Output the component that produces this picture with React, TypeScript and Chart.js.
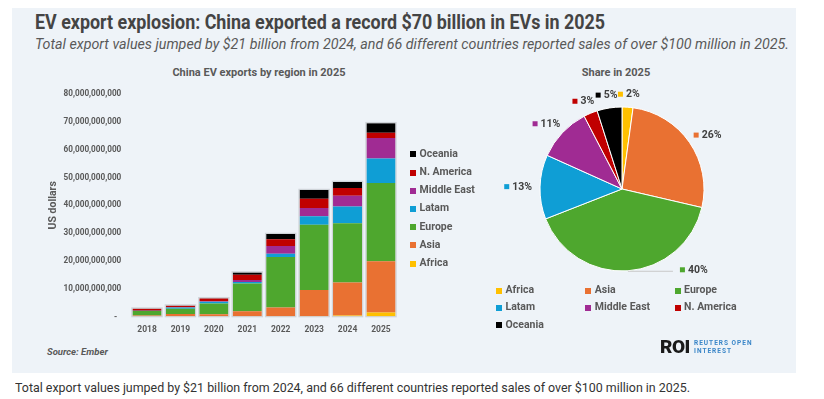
import React, { useEffect, useLayoutEffect, useRef } from 'react';
import { Chart, registerables } from 'chart.js';

Chart.register(...registerables);

// ---------- data ----------
const years = ['2018', '2019', '2020', '2021', '2022', '2023', '2024', '2025'];
const regions = ['Africa', 'Asia', 'Europe', 'Latam', 'Middle East', 'N. America', 'Oceania'];
const regionColors = ['#FFC000', '#E97132', '#4EA72E', '#0F9ED5', '#A02B93', '#C00000', '#000000'];
// export values, billions of US dollars
const africa = [0.02, 0.03, 0.05, 0.1, 0.1, 0.2, 0.4, 1.5];
const asia = [0.4, 0.9, 0.8, 1.9, 3.2, 9.4, 11.9, 18.4];
const europe = [1.6, 1.9, 3.9, 9.9, 18.1, 23.4, 21.3, 28.1];
const latam = [0.1, 0.5, 0.6, 0.6, 1.2, 3.1, 6.0, 8.8];
const middleEast = [0.05, 0.1, 0.2, 0.7, 2.8, 2.9, 3.8, 7.4];
const nAmerica = [0.7, 0.5, 1.0, 1.9, 2.4, 3.4, 2.8, 1.9];
const oceania = [0.05, 0.1, 0.1, 0.8, 1.9, 3.1, 2.2, 3.4];
const seriesValues = [africa, asia, europe, latam, middleEast, nAmerica, oceania];
const yAxisMax = 80e9;
const yAxisStep = 10e9;

const titleText = 'EV export explosion: China exported a record $70 billion in EVs in 2025';
const subtitleText =
  'Total export values jumped by $21 billion from 2024, and 66 different countries reported sales of over $100 million in 2025.';
const captionText = subtitleText;

const FONT = 'Roboto, "Noto Sans", sans-serif';
const GREY = '#595959';

function FitText(props: { text: string; left: number; top: number; width: number; style: React.CSSProperties }) {
  const ref = useRef<HTMLDivElement>(null);
  useLayoutEffect(() => {
    const el = ref.current;
    if (!el) return;
    el.style.transform = 'none';
    const w = el.getBoundingClientRect().width;
    if (w > 0) el.style.transform = `scaleX(${props.width / w})`;
  }, [props.text, props.width]);
  return (
    <div
      ref={ref}
      style={{
        position: 'absolute',
        left: props.left,
        top: props.top,
        whiteSpace: 'nowrap',
        transformOrigin: '0 0',
        lineHeight: 1,
        ...props.style,
      }}
    >
      {props.text}
    </div>
  );
}

const stackOutline = {
  id: 'stackOutline',
  afterDatasetsDraw(chart: any) {
    const ctx = chart.ctx;
    const y = chart.scales.y;
    const metaTop = chart.getDatasetMeta(chart.data.datasets.length - 1);
    ctx.save();
    ctx.strokeStyle = 'rgba(205,210,215,0.95)';
    ctx.lineWidth = 1.2;
    metaTop.data.forEach((bar: any, i: number) => {
      let total = 0;
      chart.data.datasets.forEach((ds: any) => (total += ds.data[i]));
      const top = y.getPixelForValue(total);
      const bottom = y.getPixelForValue(0);
      const w = bar.width;
      ctx.strokeRect(bar.x - w / 2 - 0.6, top - 0.6, w + 1.2, bottom - top + 0.6);
    });
    ctx.restore();
  },
};

const pieLabels = {
  id: 'pieLabels',
  afterDatasetsDraw(chart: any) {
    const ctx = chart.ctx;
    const meta = chart.getDatasetMeta(0);
    const data = chart.data.datasets[0].data as number[];
    const colors = chart.data.datasets[0].backgroundColor as string[];
    const total = data.reduce((a, b) => a + b, 0);
    const gap = 8;
    const box = 5;
    const h = 10;
    const leader = 45;
    ctx.save();
    ctx.font = `bold 10.5px ${FONT}`;
    ctx.textBaseline = 'middle';
    meta.data.forEach((arc: any, i: number) => {
      const p = arc.getProps(['x', 'y', 'startAngle', 'endAngle', 'outerRadius'], true);
      const mid = (p.startAngle + p.endAngle) / 2;
      const dx = Math.cos(mid);
      const dy = Math.sin(mid);
      const txt = Math.round((data[i] / total) * 100) + '%';
      const tw = ctx.measureText(txt).width;
      const w = box + 3 + tw;
      let cx = p.x + dx * (p.outerRadius + gap) + (dx * w) / 2;
      let cy = p.y + dy * (p.outerRadius + gap) + (dy * h) / 2;
      if (cy + h / 2 > p.y + p.outerRadius + 2) {
        const ax = p.x + dx * p.outerRadius;
        const ay = p.y + dy * p.outerRadius;
        ctx.strokeStyle = '#c8c8c8';
        ctx.lineWidth = 1;
        ctx.beginPath();
        ctx.moveTo(ax, ay + 0.5);
        ctx.lineTo(ax + leader, ay + 0.5);
        ctx.stroke();
        cx = ax + leader + 7 + w / 2;
        cy = ay - 1;
      }
      const left = cx - w / 2;
      ctx.fillStyle = colors[i];
      ctx.fillRect(left, cy - box / 2, box, box);
      ctx.fillStyle = '#404040';
      ctx.fillText(txt, left + box + 3, cy + 0.5);
    });
    ctx.restore();
  },
};

function BarChart() {
  const ref = useRef<HTMLCanvasElement>(null);
  useEffect(() => {
    if (!ref.current) return;
    const chart = new Chart(ref.current, {
      type: 'bar',
      data: {
        labels: years,
        datasets: regions.map((r, i) => ({
          label: r,
          data: seriesValues[i].map((v) => v * 1e9),
          backgroundColor: regionColors[i],
          borderWidth: 0,
          categoryPercentage: 1,
          barPercentage: 0.87,
        })),
      },
      options: {
        responsive: false,
        animation: false,
        layout: { padding: { top: 9, right: 12.3, left: 0, bottom: 0 } },
        plugins: { legend: { display: false }, tooltip: { enabled: false }, title: { display: false } },
        scales: {
          x: {
            stacked: true,
            grid: { display: false, drawTicks: false },
            border: { display: false },
            ticks: { color: GREY, font: { family: FONT, weight: 'bold', size: 8.5 }, padding: 8 },
            afterFit: (s: any) => {
              s.height = 23.3;
            },
          },
          y: {
            stacked: true,
            min: 0,
            max: yAxisMax,
            grid: { display: false, drawTicks: false },
            border: { display: false },
            ticks: {
              stepSize: yAxisStep,
              color: GREY,
              font: { family: FONT, weight: 'bold', size: 8.2 },
              padding: 9,
              callback: (v: any) => (Number(v) === 0 ? '-  ' : Number(v).toLocaleString('en-US')),
            },
            title: {
              display: true,
              text: 'US dollars',
              color: GREY,
              font: { family: FONT, weight: 'bold', size: 10.5 },
              padding: { top: 7, bottom: 0 },
            },
            afterFit: (s: any) => {
              s.width = 90.3;
            },
          },
        },
      },
      plugins: [stackOutline],
    });
    return () => chart.destroy();
  }, []);
  return <canvas ref={ref} width={370} height={260} style={{ position: 'absolute', left: 40, top: 80, width: 370, height: 260 }} />;
}

function PieChart() {
  const ref = useRef<HTMLCanvasElement>(null);
  useEffect(() => {
    if (!ref.current) return;
    const last = years.length - 1;
    const chart = new Chart(ref.current, {
      type: 'pie',
      data: {
        labels: regions,
        datasets: [
          {
            data: seriesValues.map((s) => s[last]),
            backgroundColor: regionColors,
            borderColor: '#ffffff',
            borderWidth: 1,
            radius: 82,
          } as any,
        ],
      },
      options: {
        responsive: false,
        animation: false,
        layout: { padding: 0 },
        plugins: { legend: { display: false }, tooltip: { enabled: false }, title: { display: false } },
      },
      plugins: [pieLabels],
    });
    return () => chart.destroy();
  }, []);
  return <canvas ref={ref} width={300} height={210} style={{ position: 'absolute', left: 472, top: 84, width: 300, height: 210 }} />;
}

const legendText: React.CSSProperties = {
  position: 'absolute',
  fontFamily: FONT,
  fontWeight: 700,
  fontSize: 10.5,
  color: GREY,
  lineHeight: 1,
  whiteSpace: 'nowrap',
};

export default function App() {
  const barLegendOrder = regions.map((_, i) => regions.length - 1 - i);
  return (
    <div style={{ position: 'absolute', left: 0, top: 0, width: 824, height: 399, background: '#ffffff', overflow: 'hidden' }}>
      <div style={{ position: 'absolute', left: 12, top: 8, width: 784, height: 365, background: '#eef3f8' }} />
      <FitText
        text={titleText}
        left={35}
        top={11.5}
        width={570}
        style={{ fontFamily: FONT, fontWeight: 700, fontSize: 21, color: '#444444' }}
      />
      <FitText
        text={subtitleText}
        left={35}
        top={38}
        width={754}
        style={{ fontFamily: FONT, fontStyle: 'italic', fontSize: 14.5, color: GREY }}
      />
      <div style={{ ...legendText, left: 159, width: 200, top: 67, textAlign: 'center', fontSize: 11 }}>China EV exports by region in 2025</div>
      <div style={{ ...legendText, left: 516, width: 200, top: 67, textAlign: 'center', fontSize: 11 }}>Share in 2025</div>
      <BarChart />
      <PieChart />
      {barLegendOrder.map((ri, k) => (
        <React.Fragment key={regions[ri]}>
          <div style={{ position: 'absolute', left: 410, top: 154.3 + 18.2 * k - 3, width: 6, height: 6, background: regionColors[ri] }} />
          <div style={{ ...legendText, left: 419.5, top: 154.3 + 18.2 * k - 5.5 }}>{regions[ri]}</div>
        </React.Fragment>
      ))}
      {regions.map((r, i) => {
        const col = i % 3;
        const row = Math.floor(i / 3);
        const sx = 496 + 89.3 * col;
        const cy = 290.7 + 17.2 * row;
        return (
          <React.Fragment key={r}>
            <div style={{ position: 'absolute', left: sx, top: cy - 3, width: 6, height: 6, background: regionColors[i] }} />
            <div style={{ ...legendText, left: sx + 9.5, top: cy - 5.5 }}>{r}</div>
          </React.Fragment>
        );
      })}
      <div style={{ ...legendText, left: 47, top: 347, fontStyle: 'italic', fontSize: 9.5 }}>Source: Ember</div>
      <div style={{ position: 'absolute', left: 660, top: 337, fontFamily: FONT, fontWeight: 900, fontSize: 19, lineHeight: 1, color: '#1a1a1a', letterSpacing: -0.5 }}>
        ROI
      </div>
      <div style={{ position: 'absolute', left: 694, top: 340, fontFamily: FONT, fontWeight: 700, fontSize: 6.5, lineHeight: '7.5px', color: '#3a86c8', letterSpacing: 1 }}>
        REUTERS OPEN
        <br />
        INTEREST
      </div>
      <FitText
        text={captionText}
        left={15}
        top={380.5}
        width={675}
        style={{ fontFamily: FONT, fontSize: 13.5, color: '#333333' }}
      />
    </div>
  );
}
